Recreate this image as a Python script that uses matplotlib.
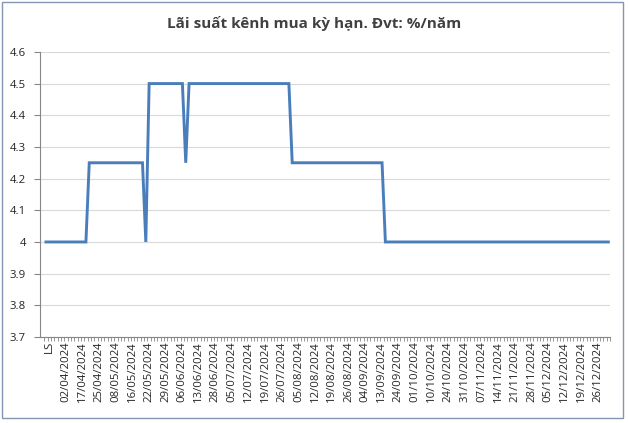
import matplotlib.pyplot as plt
import matplotlib.transforms as mtransforms
import numpy as np
from matplotlib.patches import Rectangle

plt.rcParams['font.family'] = ['Open Sans', 'DejaVu Sans']

# Rate levels per observation (categories are observation dates, first one is 'LS')
levels = [4.0, 4.25, 4.0, 4.5, 4.25, 4.5, 4.25, 4.0]
run_lengths = [13, 17, 1, 11, 1, 31, 28, 68]
date_labels = ['LS', '02/04/2024', '17/04/2024', '25/04/2024', '08/05/2024', '16/05/2024',
               '22/05/2024', '29/05/2024', '06/06/2024', '13/06/2024', '28/06/2024',
               '05/07/2024', '12/07/2024', '19/07/2024', '26/07/2024', '05/08/2024',
               '12/08/2024', '19/08/2024', '26/08/2024', '04/09/2024', '13/09/2024',
               '24/09/2024', '01/10/2024', '10/10/2024', '24/10/2024', '31/10/2024',
               '07/11/2024', '14/11/2024', '21/11/2024', '28/11/2024', '05/12/2024',
               '12/12/2024', '19/12/2024', '26/12/2024']
label_step = 5

rates = np.repeat(levels, run_lengths)
x = np.arange(len(rates))

fig = plt.figure(figsize=(6.28, 4.23), dpi=100)
ax = fig.add_axes([0.0637, 0.2033, 0.9076, 0.674])

ax.plot(x, rates, color='#4a7ebb', lw=2.1, solid_joinstyle='miter')

ax.set_ylim(3.7, 4.6)
ax.set_yticks(np.arange(3.7, 4.61, 0.1))
ax.set_yticklabels(['3.7', '3.8', '3.9', '4', '4.1', '4.2', '4.3', '4.4', '4.5', '4.6'])
ax.set_xlim(-1.8, len(rates) - 0.5)

ax.set_xticks(np.arange(0, len(date_labels) * label_step, label_step))
ax.set_xticklabels(date_labels, rotation=90)
ax.set_xticks(np.arange(-0.5, len(rates), 1), minor=True)
ax.tick_params(axis='x', which='major', length=0, pad=3, labelsize=8.2, labelcolor='#262626')
ax.tick_params(axis='x', which='minor', length=3, color='#868686', width=0.6)
ax.tick_params(axis='y', length=4, width=0.8, color='#868686', pad=6,
               labelsize=8.2, labelcolor='#262626')

shift = mtransforms.ScaledTranslation(3 / 100, 0, fig.dpi_scale_trans)
for lbl in ax.get_xticklabels():
    lbl.set_transform(lbl.get_transform() + shift)

ax.grid(axis='y', color='#d9d9d9', lw=0.8)
ax.set_axisbelow(True)
for side in ['top', 'right']:
    ax.spines[side].set_visible(False)
ax.spines['left'].set_color('#868686')
ax.spines['bottom'].set_color('#868686')
ax.spines['left'].set_linewidth(0.8)
ax.spines['bottom'].set_linewidth(0.8)

fig.text(0.5, 0.945, 'Lãi suất kênh mua kỳ hạn. Đvt: %/năm', ha='center', va='center',
         fontsize=11, fontweight='bold', color='#404040')

fig.patches.append(Rectangle((0.003, 0.012), 0.989, 0.983, transform=fig.transFigure,
                             fill=False, edgecolor='#8497b0', lw=1.0))

fig.savefig('out.png', dpi=100)
